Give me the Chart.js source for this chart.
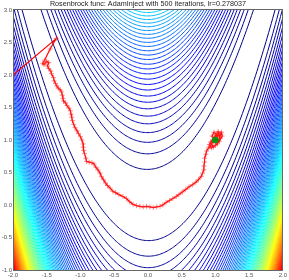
<!DOCTYPE html>
<html>
<head>
<meta charset="utf-8">
<script src="https://cdn.jsdelivr.net/npm/chart.js@4"></script>
<style>
html,body{margin:0;padding:0;background:#fff;}
#wrap{width:289px;height:280px;position:relative;}
</style>
</head>
<body>
<div id="wrap"><canvas id="c" width="289" height="280"></canvas></div>
<script>
// ---- chart values ----
const titleText = "Rosenbrock func: AdamInject with 500 iterations, lr=0.278037";
const xTicks = [-2.0, -1.5, -1.0, -0.5, 0.0, 0.5, 1.0, 1.5, 2.0];
const yTicks = [-1.0, -0.5, 0.0, 0.5, 1.0, 1.5, 2.0, 2.5, 3.0];
// contour levels of f(x,y) = (1-x)^2 + 100 (y-x^2)^2
const contourLevels = [31,63,94,125,157,188,220,251,282,314,345,376,408,439,470,502,533,564,596,627,
  659,690,721,753,784,815,847,878,909,941,972,1004,1035,1066,1098,1129,1160,1192,1223,1254,
  1286,1317,1348,1380,1411,1443,1474,1505,1537,1568,1599,1631,1662,1693,1725,1756,1787,1819,1850,1882,
  1913,1944,1976,2007,2038,2070,2101,2132,2164,2195,2226,2258,2289,2321,2352,2383,2415,2446,2477];
const colorMax = 2700;
// optimizer path
const pathX = [-2.00,-1.36,-1.45,-1.53,-1.56,-1.54,-1.50,-1.47,-1.49,-1.47,-1.44,-1.43,-1.40,-1.39,-1.37,-1.35,-1.33,-1.30,-1.28,-1.27,
  -1.26,-1.25,-1.22,-1.20,-1.17,-1.15,-1.14,-1.13,-1.12,-1.10,-1.08,-1.05,-1.03,-1.00,-0.98,-0.96,-0.96,-0.95,-0.94,-0.92,
  -0.91,-0.87,-0.83,-0.80,-0.77,-0.74,-0.71,-0.69,-0.66,-0.63,-0.60,-0.56,-0.52,-0.48,-0.43,-0.37,-0.32,-0.27,-0.22,-0.17,
  -0.12,-0.07,-0.02,0.03,0.08,0.13,0.18,0.22,0.27,0.32,0.37,0.42,0.46,0.51,0.56,0.61,0.66,0.71,0.75,0.79,
  0.81,0.83,0.83,0.84,0.84,0.86,0.87,0.90,
  0.92,0.95,1.00,1.05,1.09,1.10,1.06,1.00,0.94,0.91,0.96,1.02,0.98,0.95,1.01,1.07,1.04,0.99,0.93,0.97,
  1.03,1.08,1.02,0.97,1.00];
const pathY = [2.00,2.56,2.40,2.23,2.18,2.16,2.21,2.19,2.14,2.10,2.06,2.02,1.96,1.91,1.87,1.83,1.80,1.77,1.74,1.69,
  1.64,1.60,1.57,1.53,1.49,1.45,1.40,1.35,1.30,1.24,1.19,1.14,1.10,1.05,1.00,0.94,0.89,0.84,0.79,0.72,
  0.67,0.66,0.65,0.63,0.58,0.54,0.49,0.44,0.39,0.34,0.30,0.26,0.21,0.19,0.16,0.13,0.10,0.05,0.01,-0.01,
  -0.02,-0.03,-0.02,-0.03,-0.04,-0.03,-0.02,0.00,0.04,0.07,0.10,0.13,0.16,0.20,0.24,0.28,0.31,0.35,0.39,0.44,
  0.49,0.54,0.60,0.66,0.72,0.78,0.83,0.88,
  0.90,0.95,1.02,1.10,1.12,1.06,0.98,0.92,0.88,0.93,1.00,1.08,1.12,1.06,0.97,1.03,1.13,1.05,0.97,0.89,
  0.94,1.09,1.04,0.99,1.00];
const minimumX = [1.0];
const minimumY = [1.0];

// ---- helpers ----
function jet(f){
  const cl=v=>Math.max(0,Math.min(1,v));
  const r=cl(1.5-Math.abs(4*f-3)), g=cl(1.5-Math.abs(4*f-2)), b=cl(1.5-Math.abs(4*f-1));
  return `rgb(${Math.round(r*255)},${Math.round(g*255)},${Math.round(b*255)})`;
}
function contourBranches(c){
  const s=Math.sqrt(c);
  const tA=Math.acos(Math.min(1,1.06/s)), tB=Math.acos(Math.max(-1,-3.06/s));
  const N=220, up=[], lo=[];
  for(let i=0;i<=N;i++){
    const t=tA+(tB-tA)*i/N;
    const x=1+s*Math.cos(t), d=s*Math.sin(t)/10;
    up.push({x:x,y:x*x+d}); lo.push({x:x,y:x*x-d});
  }
  return [up,lo];
}

const datasets=[];
contourLevels.forEach(c=>{
  const col=jet(c/colorMax);
  contourBranches(c).forEach(pts=>{
    datasets.push({data:pts,showLine:true,borderColor:col,borderWidth:1,pointRadius:0,tension:0,order:3,clip:0});
  });
});
datasets.push({data:pathX.map((x,i)=>({x:x,y:pathY[i]})),showLine:true,borderColor:'rgb(255,0,0)',borderWidth:1.2,
  pointStyle:'cross',pointRadius:2.5,pointBorderColor:'rgba(255,40,40,0.55)',pointBorderWidth:1,order:2,clip:0});
datasets.push({data:minimumX.map((x,i)=>({x:x,y:minimumY[i]})),showLine:false,pointRadius:3,
  pointBackgroundColor:'#109010',pointBorderColor:'#109010',order:1,clip:0});

const frame={id:'frame',
  afterDatasetsDraw(ch){const a=ch.chartArea,ctx=ch.ctx;ctx.save();ctx.strokeStyle='#666';ctx.lineWidth=1;
    ctx.strokeRect(Math.round(a.left)+0.5,Math.round(a.top)-0.5,Math.round(a.right-a.left)-1,Math.round(a.bottom-a.top)+1);ctx.restore();},
  afterDraw(ch){const a=ch.chartArea,ctx=ch.ctx;ctx.save();ctx.fillStyle='#222';ctx.font='7.2px "Liberation Sans", Arial, sans-serif';
    ctx.textAlign='center';ctx.textBaseline='alphabetic';ctx.fillText(titleText,(a.left+a.right)/2,6);ctx.restore();}
};

new Chart(document.getElementById('c'),{
  type:'scatter',
  data:{datasets:datasets},
  options:{responsive:false,animation:false,events:[],
    layout:{padding:{top:10,right:6,left:0,bottom:0}},
    plugins:{legend:{display:false},tooltip:{enabled:false},title:{display:false}},
    scales:{
      x:{type:'linear',min:-2,max:2,
        afterBuildTicks:s=>{s.ticks=xTicks.map(v=>({value:v}));},
        afterFit:s=>{s.height=10;},
        grid:{display:false,drawTicks:false},border:{display:false},
        ticks:{padding:2,maxRotation:0,autoSkip:false,color:'#555',font:{family:'"Liberation Sans", Arial, sans-serif',size:6},callback:v=>v.toFixed(1)}},
      y:{type:'linear',min:-1,max:3,
        afterBuildTicks:s=>{s.ticks=yTicks.map(v=>({value:v}));},
        afterFit:s=>{s.width=13;},
        grid:{display:false,drawTicks:false},border:{display:false},
        ticks:{padding:1,autoSkip:false,color:'#555',font:{family:'"Liberation Sans", Arial, sans-serif',size:6},callback:v=>v.toFixed(1)}}
    }
  },
  plugins:[frame]
});
</script>
</body>
</html>
